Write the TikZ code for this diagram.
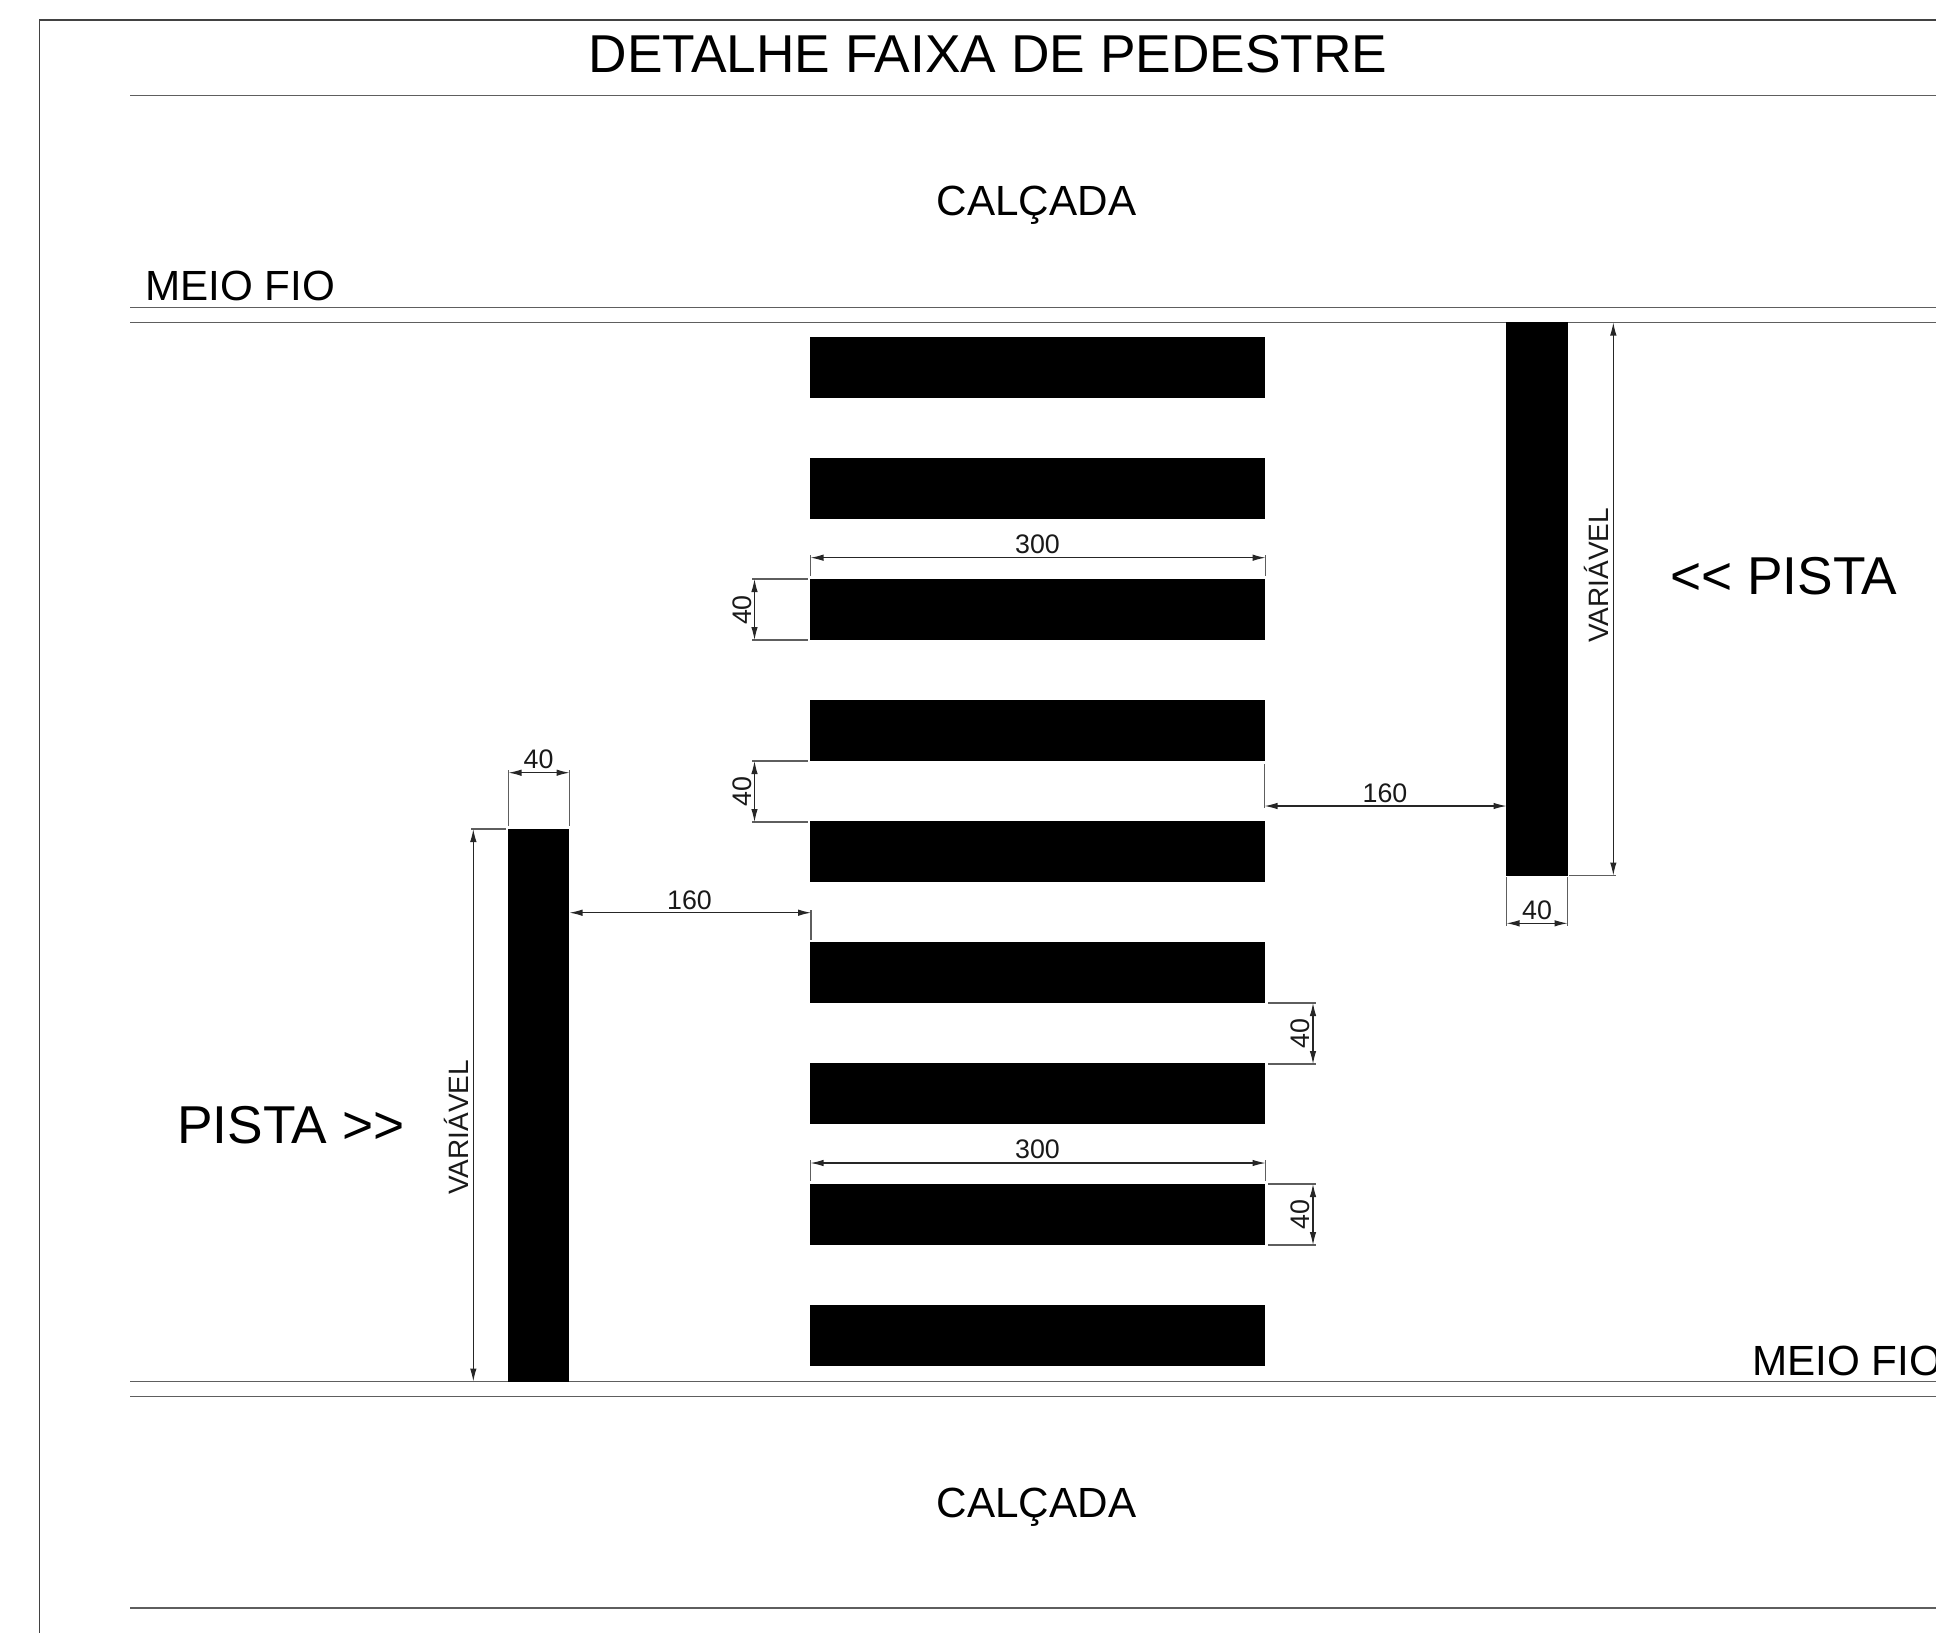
\documentclass[tikz,border=0pt]{standalone}
\usepackage{fontspec}
\setmainfont{Liberation Sans}
\usetikzlibrary{arrows.meta}
\definecolor{lineg}{HTML}{5E5E5E}
\tikzset{
  mainline/.style={draw=lineg,line width=1.7pt},
  frameline/.style={draw=lineg!70!black,line width=1.7pt},
  extline/.style={draw=lineg,line width=1.2pt},
  dimline/.style={draw=black!85,line width=1.1pt,{Latex[length=13pt,width=6.5pt]}-{Latex[length=13pt,width=6.5pt]}},
  barfill/.style={fill=black,draw=none},
  dimtext/.style={font=\fontsize{26.8}{30}\selectfont,anchor=base,inner sep=0pt,text=black!90},
  vartext/.style={font=\fontsize{26.8}{30}\selectfont,anchor=base,inner sep=0pt,rotate=90,text=black!90},
  longtext/.style={font=\fontsize{28}{32}\selectfont,anchor=base,inner sep=0pt,rotate=90,text=black!90},
  bigtext/.style={font=\fontsize{42.2}{48}\selectfont,inner sep=0pt,text=black},
  hugetext/.style={font=\fontsize{53.3}{60}\selectfont,inner sep=0pt,text=black},
}
\begin{document}
\begin{tikzpicture}[x=1pt,y=-1pt]
\useasboundingbox (0,0) rectangle (1936,1633);
\clip (0,0) rectangle (1936,1633);
% frame and road lines
\draw[frameline] (39.5,1633) -- (39.5,20) -- (1936,20);
\foreach \yy in {95.5,307.5,322.5,1381.5,1396.5,1608}
  \draw[mainline] (130,\yy) -- (1936,\yy);
% crossing bars
\foreach \yy in {337,458,579,700,821,942,1063,1184,1305}
  \fill[barfill] (810,\yy) rectangle (1265.3,\yy+61.4);
\fill[barfill] (508,829) rectangle (569.3,1382);
\fill[barfill] (1506,322) rectangle (1567.5,875.5);
% horizontal 300 dims
\draw[extline] (810.5,555) -- (810.5,576);
\draw[extline] (1265.5,555) -- (1265.5,576);
\draw[dimline] (810.5,557.7) -- (1265.5,557.7);
\node[dimtext] (t300a) at (1037.5,553.5) {300};
\draw[extline] (810.5,1160) -- (810.5,1181);
\draw[extline] (1265.5,1160) -- (1265.5,1181);
\draw[dimline] (810.5,1163) -- (1265.5,1163);
\node[dimtext] (t300b) at (1037.5,1158.5) {300};
% left 40 dims
\draw[extline] (752,579) -- (808,579);
\draw[extline] (752,640) -- (808,640);
\draw[dimline] (754.5,579) -- (754.5,640);
\node[vartext] (t40a) at (751,610) {40};
\draw[extline] (752,761) -- (808,761);
\draw[extline] (752,822) -- (808,822);
\draw[dimline] (754.5,761) -- (754.5,822);
\node[vartext] (t40b) at (751,791.5) {40};
% right 40 dims
\draw[extline] (1268,1003) -- (1316,1003);
\draw[extline] (1268,1064) -- (1316,1064);
\draw[dimline] (1313,1003) -- (1313,1064);
\node[vartext] (t40c) at (1309,1033.5) {40};
\draw[extline] (1268,1184) -- (1316,1184);
\draw[extline] (1268,1245) -- (1316,1245);
\draw[dimline] (1313,1184) -- (1313,1245);
\node[vartext] (t40d) at (1309,1214.5) {40};
% top 40 over left bar
\draw[extline] (508.5,770) -- (508.5,826);
\draw[extline] (569.5,770) -- (569.5,826);
\draw[dimline] (508.5,772.7) -- (569.5,772.7);
\node[dimtext] (t40e) at (538.5,768.5) {40};
% bottom 40 under right bar
\draw[extline] (1506.5,877) -- (1506.5,926);
\draw[extline] (1567.5,877) -- (1567.5,926);
\draw[dimline] (1506.5,923.3) -- (1567.5,923.3);
\node[dimtext] (t40f) at (1537,919) {40};
% 160 dims
\draw[extline] (811,910) -- (811,940);
\draw[dimline] (569.5,912.7) -- (811,912.7);
\node[dimtext] (t160a) at (689.5,909) {160};
\draw[extline] (1264.5,764) -- (1264.5,808);
\draw[dimline] (1264.5,806) -- (1506.5,806);
\node[dimtext] (t160b) at (1385,802) {160};
% variável dims
\draw[extline] (471,829) -- (506,829);
\draw[extline] (471,1381.5) -- (506,1381.5);
\draw[dimline] (473.3,829) -- (473.3,1381.5);
\node[longtext] (tvara) at (468.5,1127.5) {VARIÁVEL};
\draw[extline] (1569,322.5) -- (1616,322.5);
\draw[extline] (1569,875.5) -- (1616,875.5);
\draw[dimline] (1613.3,322.5) -- (1613.3,875.5);
\node[longtext] (tvarb) at (1608,575.5) {VARIÁVEL};
% labels
\node[hugetext,anchor=base] (title) at (988,72.5) {DETALHE FAIXA DE PEDESTRE};
\node[bigtext,anchor=base] (calca) at (1036.5,215) {CALÇADA};
\node[bigtext,anchor=base] (calcb) at (1036.5,1517) {CALÇADA};
\node[bigtext,anchor=base west] (mfa) at (145,300.5) {MEIO FIO};
\node[bigtext,anchor=base west] (mfb) at (1752,1375) {MEIO FIO};
\node[hugetext,anchor=base west] (pa) at (1670,594) {<{}< PISTA};
\node[hugetext,anchor=base west] (pb) at (177,1143.5) {PISTA >{}>};
\end{tikzpicture}
\end{document}
